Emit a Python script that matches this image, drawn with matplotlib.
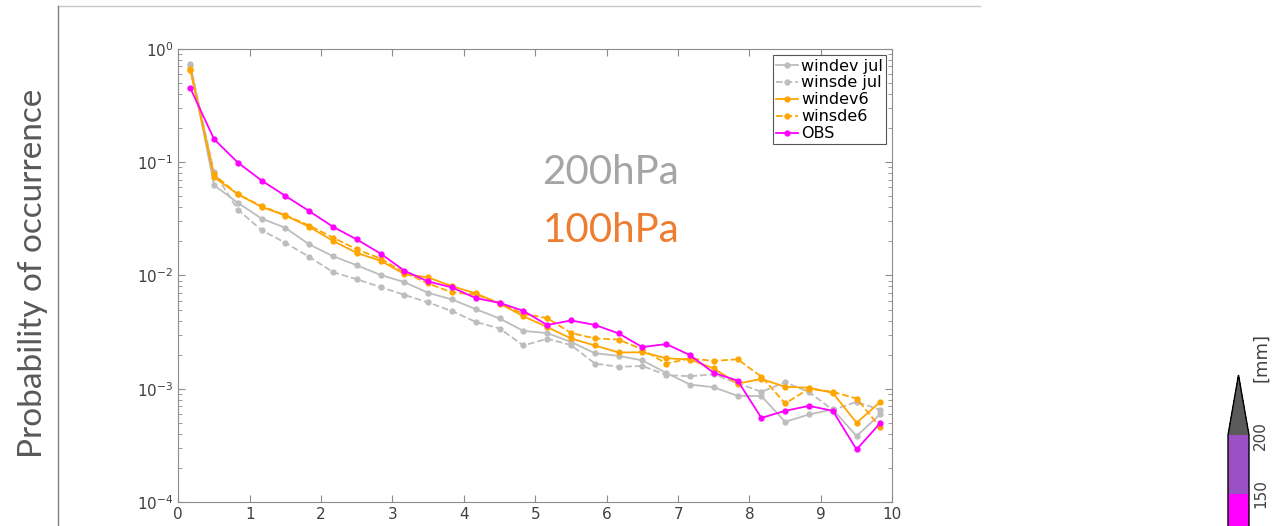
import numpy as np
import matplotlib
matplotlib.use("Agg")
from matplotlib import pyplot as plt
from matplotlib.lines import Line2D
from matplotlib.colors import ListedColormap, BoundaryNorm
from matplotlib.cm import ScalarMappable

#######################################
# data
#######################################

# bin centres (1/3 wide bins)
x = (np.arange(30) + 0.5) / 3.0

windev_jul = [0.74, 0.0627, 0.0438, 0.0318, 0.0263, 0.0188, 0.0148, 0.0123, 0.0101, 0.00873,
              0.00702, 0.00614, 0.00504, 0.00417, 0.00324, 0.00310, 0.00259, 0.00206, 0.00195, 0.00178,
              0.00138, 0.00109, 0.00103, 0.000866, 0.000861, 0.000510, 0.000593, 0.000656, 0.000382, 0.000597]

winsde_jul = [0.72, 0.082, 0.0382, 0.0251, 0.0194, 0.0146, 0.0107, 0.00927, 0.00789, 0.00674,
              0.00578, 0.00484, 0.00389, 0.00340, 0.00241, 0.00276, 0.00243, 0.00167, 0.00156, 0.00159,
              0.00132, 0.00129, 0.00134, 0.00112, 0.000939, 0.00114, 0.000933, 0.000650, 0.000766, 0.000650]

windev6 = [0.658, 0.0738, 0.0522, 0.0403, 0.0338, 0.0269, 0.0202, 0.0158, 0.0135, 0.0103,
           0.00960, 0.00805, 0.00694, 0.00565, 0.00437, 0.00350, 0.00278, 0.00241, 0.00209, 0.00210,
           0.00186, 0.00181, 0.00151, 0.00111, 0.00122, 0.00104, 0.00102, 0.000920, 0.000500, 0.000766]

winsde6 = [0.67, 0.078, 0.052, 0.041, 0.034, 0.0276, 0.0216, 0.0170, 0.0141, 0.0106,
           0.00850, 0.00708, 0.00680, 0.0057, 0.00458, 0.00420, 0.00311, 0.00278, 0.00272, 0.00222,
           0.00167, 0.00185, 0.00176, 0.00182, 0.00128, 0.000742, 0.00100, 0.000939, 0.000820, 0.000455]

obs = [0.453, 0.160, 0.0993, 0.0689, 0.0504, 0.0370, 0.0269, 0.0208, 0.0156, 0.0110,
       0.00885, 0.00784, 0.00631, 0.00573, 0.00487, 0.00365, 0.00401, 0.00366, 0.00308, 0.00233,
       0.00248, 0.00198, 0.00138, 0.00118, 0.000553, 0.000638, 0.000706, 0.000638, 0.000291, 0.000500]

# colour bar fragment on the right
cbar_bounds = [100, 150, 200]
cbar_colors = ['#ff00ff', '#9b50c4']

GRAY = '#bdbdbd'
ORANGE = '#ffa500'
MAGENTA = '#ff00ff'

#######################################
# figure
#######################################

fig = plt.figure(figsize=(12.8, 5.26), dpi=100)
ax = fig.add_axes([0.1393, 0.0456, 0.5578, 0.8614])

kw = dict(lw=1.3, marker='o', ms=3.5)
ax.plot(x, windev_jul, '-', color=GRAY, label='windev jul', **kw)
ax.plot(x, winsde_jul, '--', color=GRAY, label='winsde jul', **kw)
ax.plot(x, windev6, '-', color=ORANGE, label='windev6', **kw)
ax.plot(x, winsde6, '--', color=ORANGE, label='winsde6', **kw)
ax.plot(x, obs, '-', color=MAGENTA, label='OBS', **kw)

ax.set_yscale('log')
ax.set_xlim(0, 10)
ax.set_ylim(1e-4, 1)
ax.set_xticks(np.arange(0, 11, 1))
ax.tick_params(which='both', direction='in', top=True, right=True, colors='#8c8c8c',
               labelcolor='#404040', labelsize=11)
ax.tick_params(which='major', length=5)
ax.tick_params(which='minor', length=3)
for s in ax.spines.values():
    s.set_color('#8c8c8c')

leg = ax.legend(loc='upper right', fontsize=11.5, fancybox=False, edgecolor='#555555',
                handlelength=1.4, handletextpad=0.15, borderpad=0.2, labelspacing=0.12,
                borderaxespad=0.4, framealpha=1)
leg.get_frame().set_linewidth(0.8)

ax.text(0.606, 0.728, '200hPa', transform=ax.transAxes, ha='center', va='center',
        fontsize=29, color='#a5a5a5', family='Lato')
ax.text(0.606, 0.600, '100hPa', transform=ax.transAxes, ha='center', va='center',
        fontsize=29, color='#ed7d31', family='Lato')

# big axis label and frame lines of the slide
fig.text(0.026, 0.48, 'Probability of occurrence', rotation=90, ha='center', va='center',
         fontsize=24, color='#595959', family='Lato')
fig.add_artist(Line2D([0.0453, 0.766], [0.988, 0.988], transform=fig.transFigure,
                      color='#c8c8c8', lw=1))
fig.add_artist(Line2D([0.0453, 0.0453], [0.0, 0.988], transform=fig.transFigure,
                      color='#7f7f7f', lw=1))

# colour bar fragment (runs off the bottom edge like in the reference)
cax = fig.add_axes([1228 / 1280, -27 / 526, 21 / 1280, 178 / 526])
cmap = ListedColormap(cbar_colors)
cmap.set_over('#5a5a5a')
sm = ScalarMappable(norm=BoundaryNorm(cbar_bounds, cmap.N), cmap=cmap)
cb = fig.colorbar(sm, cax=cax, extend='max', extendfrac=0.51, ticks=[150, 200])
cb.outline.set_linewidth(1)
cb.ax.tick_params(length=0, labelsize=11, labelcolor='#404040', pad=3)
for t in cb.ax.get_yticklabels():
    t.set_rotation(90)
    t.set_va('center')
fig.text(0.9855, 0.321, '[mm]', rotation=90, ha='center', va='center',
         fontsize=13, color='#404040')

plt.savefig('out.png', dpi=100)
